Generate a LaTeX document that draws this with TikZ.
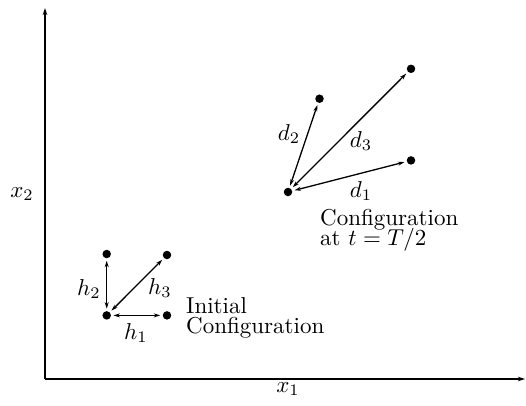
\documentclass[tikz,border=0pt]{standalone}
\usetikzlibrary{arrows.meta}
\newcommand{\bigtxt}[1]{\scalebox{2.3}{#1}}
\newcommand{\twolines}[2]{\bigtxt{\vbox{\baselineskip=8.7pt\lineskiplimit=-100pt\hbox{#1}\hbox{#2}}}}
\begin{document}
\begin{tikzpicture}[x=1pt,y=-1pt,
  dot/.style={circle,fill,inner sep=0pt,minimum size=8.5pt,outer sep=2.5pt},
  link/.style={{Stealth[length=6.5pt,width=4pt]}-{Stealth[length=6.5pt,width=4pt]},line width=1.3pt},
  axis/.style={line width=1.3pt,-{Stealth[length=7pt,width=4.5pt]}},
  lab/.style={inner sep=0pt},
  para/.style={lab,anchor=base west}]
\useasboundingbox (0,0) rectangle (526,405);
% axes
\coordinate (O) at (45,379);
\coordinate (Y) at (45,8);
\coordinate (X) at (525,379);
\draw[axis] (O) -- (Y);
\draw[axis] (O) -- (X);
\node[lab] (lx2) at (22,194) {\bigtxt{$x_2$}};
\node[lab] (lx1) at (288,389) {\bigtxt{$x_1$}};
% initial configuration
\node[dot] (a0) at (106.7,315.4) {};
\node[dot] (a2) at (106.7,254) {};
\node[dot] (a3) at (167,255) {};
\node[dot] (a1) at (167,315.4) {};
\draw[link] (a0) -- (a1);
\draw[link] (a0) -- (a2);
\draw[link] (a0) -- (a3);
\node[lab] (lh1) at (136,333) {\bigtxt{$h_1$}};
\node[lab] (lh2) at (89,289) {\bigtxt{$h_2$}};
\node[lab] (lh3) at (160,288) {\bigtxt{$h_3$}};
\node[para] (t1) at (186,333) {\twolines{Initial}{Configuration}};
% configuration at T/2
\node[dot] (b0) at (288,192) {};
\node[dot] (b2) at (319.5,98.7) {};
\node[dot] (b3) at (411,68.8) {};
\node[dot] (b1) at (411,160.4) {};
\draw[link] (b0) -- (b1);
\draw[link] (b0) -- (b2);
\draw[link] (b0) -- (b3);
\node[lab] (ld1) at (361,191) {\bigtxt{$d_1$}};
\node[lab] (ld2) at (289,134) {\bigtxt{$d_2$}};
\node[lab] (ld3) at (361,141) {\bigtxt{$d_3$}};
\node[para] (t3) at (320,245.5) {\twolines{Configuration}{at $t=T/2$}};
\end{tikzpicture}
\end{document}
